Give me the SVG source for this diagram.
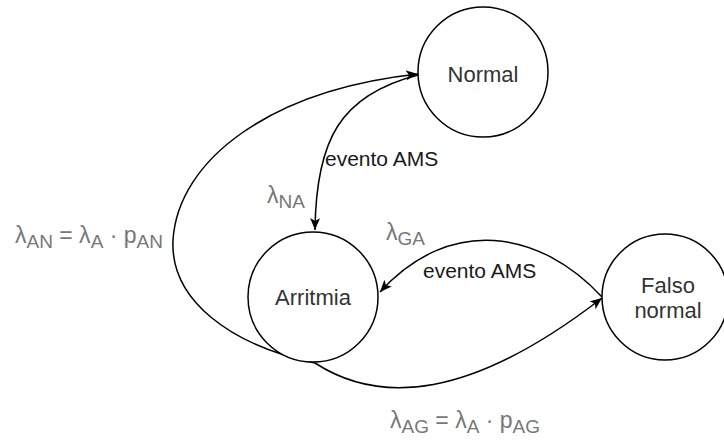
<svg xmlns="http://www.w3.org/2000/svg" width="724" height="441" viewBox="0 0 724 441">
<defs>
<style>
.node{fill:#fff;stroke:#000;stroke-width:1.5}
.nt{font-family:"Liberation Sans",Arial,sans-serif;font-size:22px;fill:#333;text-anchor:middle}
.edge{fill:none;stroke:#000;stroke-width:1.5}
.el{font-family:"Liberation Sans",Arial,sans-serif;font-size:21px;fill:#1a1a1a}
.lam{font-family:"Liberation Sans",Arial,sans-serif;font-size:23px;fill:#777}
.sub{font-size:19px}
</style>
<marker id="arr" markerUnits="userSpaceOnUse" markerWidth="14" markerHeight="12" refX="12" refY="5" orient="auto">
<path d="M0,0 L12,5 L0,10 L3,5 Z" fill="#000"/>
</marker>
</defs>
<g id="edges">
<path class="edge" d="M418 75 C340 95 316 140 315 230" marker-end="url(#arr)"/>
<path class="edge" d="M315 363 C230 345 170 300 173 240 C178 160 270 90 418 74" marker-end="url(#arr)"/>
<path class="edge" d="M315 363 C380 405 470 400 602 298" marker-end="url(#arr)"/>
<path class="edge" d="M602 297 C540 230 450 215 380 292" marker-end="url(#arr)"/>
</g>
<g id="node-normal">
<circle class="node" cx="483" cy="72" r="65"/>
<text class="nt" x="483" y="82">Normal</text>
</g>
<g id="node-arritmia">
<circle class="node" cx="313" cy="297" r="65"/>
<text class="nt" x="313" y="305">Arritmia</text>
</g>
<g id="node-falso">
<circle class="node" cx="665" cy="297" r="63"/>
<text class="nt" x="668" y="293">Falso</text>
<text class="nt" x="668" y="318">normal</text>
</g>
<g id="labels">
<text class="el" x="325" y="166">evento AMS</text>
<text class="el" x="423" y="278">evento AMS</text>
<text class="lam" x="15" y="243">λ<tspan class="sub" dy="5">AN</tspan><tspan dy="-5"> = λ</tspan><tspan class="sub" dy="5">A</tspan><tspan dy="-5"> · p</tspan><tspan class="sub" dy="5">AN</tspan></text>
<text class="lam" x="267" y="203">λ<tspan class="sub" dy="5">NA</tspan></text>
<text class="lam" x="386" y="240">λ<tspan class="sub" dy="5">GA</tspan></text>
<text class="lam" x="390" y="428">λ<tspan class="sub" dy="5">AG</tspan><tspan dy="-5"> = λ</tspan><tspan class="sub" dy="5">A</tspan><tspan dy="-5"> · p</tspan><tspan class="sub" dy="5">AG</tspan></text>
</g>
</svg>
